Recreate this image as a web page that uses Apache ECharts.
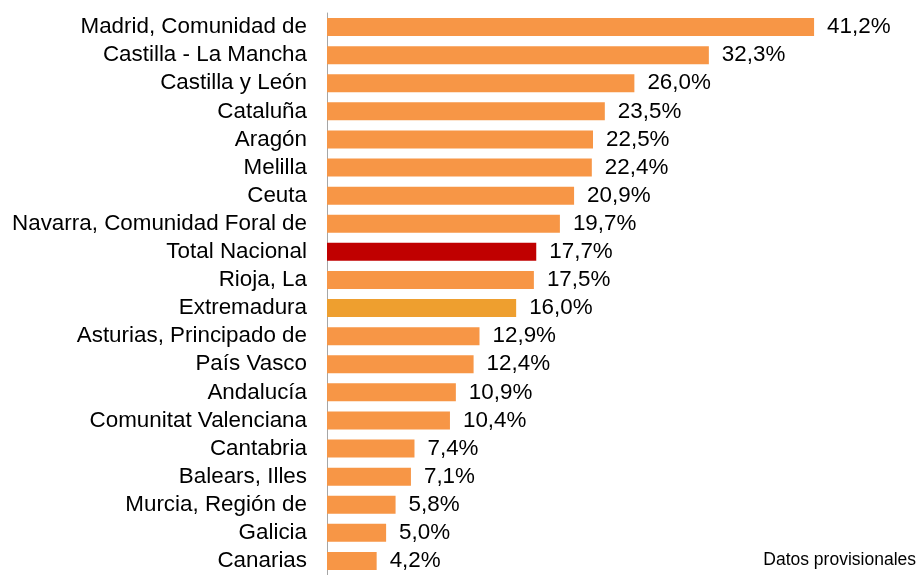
<!DOCTYPE html>
<html>
<head>
<meta charset="utf-8">
<script src="https://cdn.jsdelivr.net/npm/echarts@6/dist/echarts.min.js"></script>
<style>html,body{margin:0;padding:0;background:#fff;}#c{width:918px;height:575px;}</style>
</head>
<body>
<div id="c"></div>
<script>
var categories = ["Madrid, Comunidad de","Castilla - La Mancha","Castilla y León","Cataluña","Aragón","Melilla","Ceuta","Navarra, Comunidad Foral de","Total Nacional","Rioja, La","Extremadura","Asturias, Principado de","País Vasco","Andalucía","Comunitat Valenciana","Cantabria","Balears, Illes","Murcia, Región de","Galicia","Canarias"];
var values = [41.2,32.3,26.0,23.5,22.5,22.4,20.9,19.7,17.7,17.5,16.0,12.9,12.4,10.9,10.4,7.4,7.1,5.8,5.0,4.2];
var highlightTotal = "Total Nacional";
var highlightRegion = "Extremadura";
var noteText = "Datos provisionales";

var FONT = "'Liberation Sans', Arial, sans-serif";
var chart = echarts.init(document.getElementById('c'));
var data = values.map(function(v, i){
  var c = '#F79646';
  if (categories[i] === highlightTotal) c = '#C00000';
  else if (categories[i] === highlightRegion) c = '#EE9F2F';
  return {value: v, itemStyle: {color: c}};
});
chart.setOption({
  animation: false,
  grid: {left: 327, top: 13, width: 532, height: 566},
  graphic: [{type: 'text', x: 916, y: 560, style: {text: noteText, font: '17.5px ' + FONT, fill: '#000', align: 'right', verticalAlign: 'middle'}}],
  xAxis: {type: 'value', min: 0, max: 45, show: false},
  yAxis: {
    type: 'category', inverse: true, data: categories,
    axisLine: {show: true, lineStyle: {color: '#A6A6A6', width: 1}},
    axisTick: {show: false},
    axisLabel: {interval: 0, fontFamily: FONT, fontSize: 22.4, color: '#000', margin: 20}
  },
  series: [{
    type: 'bar', data: data, barWidth: 18,
    label: {show: true, position: 'right', distance: 13, fontFamily: FONT, fontSize: 22.4, color: '#000',
      formatter: function(p){ return p.value.toFixed(1).replace('.', ',') + '%'; }}
  }]
});
</script>
</body>
</html>
